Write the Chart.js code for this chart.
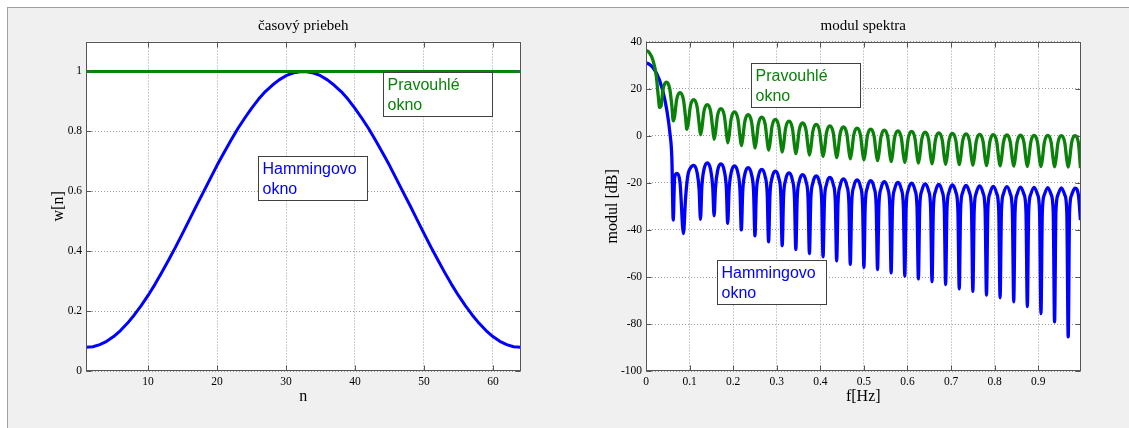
<!DOCTYPE html>
<html>
<head>
<meta charset="utf-8">
<script src="https://cdn.jsdelivr.net/npm/chart.js@4.4.1/dist/chart.umd.min.js"></script>
<style>
body{margin:0;background:#fff;width:1129px;height:428px;overflow:hidden;position:relative}
#fundo{position:absolute;left:7px;top:7px;right:0;bottom:0;background:#f0f0f0;border-top:1px solid #a0a0a0;border-left:1px solid #a0a0a0}
canvas{position:absolute;left:0;top:0}
</style>
</head>
<body>
<div id="fundo"></div>
<canvas id="tempo" width="1129" height="428"></canvas>
<canvas id="spektrum" width="1129" height="428"></canvas>
<script>
// casovy priebeh: vzorky n = 1..64
var nIdx = [1,2,3,4,5,6,7,8,9,10,11,12,13,14,15,16,17,18,19,20,21,22,23,24,25,26,27,28,29,30,31,32,
  33,34,35,36,37,38,39,40,41,42,43,44,45,46,47,48,49,50,51,52,53,54,55,56,57,58,59,60,61,62,63,64]
var rectW = [1,1,1,1,1,1,1,1,1,1,1,1,1,1,1,1,1,1,1,1,1,1,1,1,1,1,1,1,1,1,1,1,
  1,1,1,1,1,1,1,1,1,1,1,1,1,1,1,1,1,1,1,1,1,1,1,1,1,1,1,1,1,1,1,1]
var hammW = [0.080,0.082,0.089,0.100,0.116,0.136,0.160,0.188,0.219,0.253,0.290,0.330,0.372,0.415,0.460,0.506,
  0.552,0.597,0.642,0.687,0.729,0.770,0.809,0.844,0.877,0.907,0.933,0.954,0.972,0.986,0.995,0.999,
  0.999,0.995,0.986,0.972,0.954,0.933,0.907,0.877,0.844,0.809,0.770,0.729,0.687,0.642,0.597,0.552,
  0.506,0.460,0.415,0.372,0.330,0.290,0.253,0.219,0.188,0.160,0.136,0.116,0.100,0.089,0.082,0.080]

// modul spektra
var spectrumFreq = [
  0,0.0031,0.0078,0.0156,0.0234,0.0281,
  0.0313,0.0344,0.0391,0.0469,0.0547,0.0594,
  0.0625,0.0656,0.0703,0.0781,0.0859,0.0906,
  0.0938,0.0969,0.1016,0.1094,0.1172,0.1219,
  0.125,0.1281,0.1328,0.1406,0.1484,0.1531,
  0.1563,0.1594,0.1641,0.1719,0.1797,0.1844,
  0.1875,0.1906,0.1953,0.2031,0.2109,0.2156,
  0.2188,0.2219,0.2266,0.2344,0.2422,0.2469,
  0.25,0.2531,0.2578,0.2656,0.2734,0.2781,
  0.2813,0.2844,0.2891,0.2969,0.3047,0.3094,
  0.3125,0.3156,0.3203,0.3281,0.3359,0.3406,
  0.3438,0.3469,0.3516,0.3594,0.3672,0.3719,
  0.375,0.3781,0.3828,0.3906,0.3984,0.4031,
  0.4063,0.4094,0.4141,0.4219,0.4297,0.4344,
  0.4375,0.4406,0.4453,0.4531,0.4609,0.4656,
  0.4688,0.4719,0.4766,0.4844,0.4922,0.4969,
  0.5,0.5031,0.5078,0.5156,0.5234,0.5281,
  0.5313,0.5344,0.5391,0.5469,0.5547,0.5594,
  0.5625,0.5656,0.5703,0.5781,0.5859,0.5906,
  0.5938,0.5969,0.6016,0.6094,0.6172,0.6219,
  0.625,0.6281,0.6328,0.6406,0.6484,0.6531,
  0.6563,0.6594,0.6641,0.6719,0.6797,0.6844,
  0.6875,0.6906,0.6953,0.7031,0.7109,0.7156,
  0.7188,0.7219,0.7266,0.7344,0.7422,0.7469,
  0.75,0.7531,0.7578,0.7656,0.7734,0.7781,
  0.7813,0.7844,0.7891,0.7969,0.8047,0.8094,
  0.8125,0.8156,0.8203,0.8281,0.8359,0.8406,
  0.8438,0.8469,0.8516,0.8594,0.8672,0.8719,
  0.875,0.8781,0.8828,0.8906,0.8984,0.9031,
  0.9063,0.9094,0.9141,0.9219,0.9297,0.9344,
  0.9375,0.9406,0.9453,0.9531,0.9609,0.9656,
  0.9688,0.9719,0.9766,0.9844,0.9922,0.9969]
var rectDb = [
  36.1,36.0,35.2,32.2,25.7,16.9,
  12.0,12.5,19.7,22.7,19.7,12.5,
  6.3,8.1,15.3,18.3,15.3,8.1,
  2.7,5.1,12.3,15.3,12.3,5.1,
  0.4,3.0,10.2,13.2,10.2,3.0,
  -1.5,1.3,8.5,11.5,8.5,1.3,
  -3.0,-0.1,7.1,10.1,7.1,-0.1,
  -4.2,-1.3,5.9,8.9,5.9,-1.3,
  -5.2,-2.3,4.9,7.9,4.9,-2.3,
  -6.1,-3.3,3.9,6.9,3.9,-3.3,
  -6.9,-4.0,3.2,6.2,3.2,-4.0,
  -7.6,-4.8,2.4,5.4,2.4,-4.8,
  -8.2,-5.4,1.8,4.8,1.8,-5.4,
  -8.8,-6.0,1.2,4.2,1.2,-6.0,
  -9.3,-6.5,0.7,3.7,0.7,-6.5,
  -9.8,-7.0,0.2,3.2,0.2,-7.0,
  -10.2,-7.4,-0.2,2.8,-0.2,-7.4,
  -10.6,-7.8,-0.6,2.4,-0.6,-7.8,
  -11.0,-8.1,-0.9,2.1,-0.9,-8.1,
  -11.3,-8.4,-1.2,1.8,-1.2,-8.4,
  -11.6,-8.7,-1.5,1.5,-1.5,-8.7,
  -11.9,-9.0,-1.8,1.2,-1.8,-9.0,
  -12.1,-9.2,-2.0,1.0,-2.0,-9.2,
  -12.3,-9.4,-2.2,0.8,-2.2,-9.4,
  -12.5,-9.6,-2.4,0.6,-2.4,-9.6,
  -12.7,-9.7,-2.5,0.5,-2.5,-9.7,
  -12.8,-9.9,-2.7,0.3,-2.7,-9.9,
  -12.9,-10.0,-2.8,0.2,-2.8,-10.0,
  -13.0,-10.1,-2.9,0.1,-2.9,-10.1,
  -13.1,-10.1,-2.9,0.1,-2.9,-10.1,
  -13.2,-10.2,-3.0,0.0,-3.0,-10.2,
  -13.3,-10.2,-3.0,0.0,-3.0,-13.7]
var hammDb = [
  30.8,30.7,30.3,29.0,26.7,24.9,
  23.4,21.6,18.6,11.8,1.4,-9.9,
  -35.8,-18.0,-16.0,-20.0,-41.5,-27.0,
  -20.0,-16.0,-13.8,-12.6,-15.6,-22.8,
  -35.5,-21.7,-14.5,-11.5,-14.5,-21.7,
  -34.0,-22.2,-15.0,-12.0,-15.0,-22.2,
  -37.2,-23.0,-15.8,-12.8,-15.8,-23.0,
  -40.0,-23.7,-16.5,-13.5,-16.5,-23.7,
  -42.5,-24.5,-17.3,-14.3,-17.3,-24.5,
  -45.0,-25.2,-18.0,-15.0,-18.0,-25.2,
  -46.7,-26.0,-18.8,-15.8,-18.8,-26.0,
  -48.3,-26.7,-19.5,-16.5,-19.5,-26.7,
  -50.0,-27.3,-20.1,-17.1,-20.1,-27.3,
  -51.4,-27.9,-20.7,-17.7,-20.7,-27.9,
  -53.1,-28.5,-21.3,-18.3,-21.3,-28.5,
  -54.6,-28.9,-21.7,-18.7,-21.7,-28.9,
  -55.9,-29.3,-22.1,-19.1,-22.1,-29.3,
  -56.8,-29.7,-22.5,-19.5,-22.5,-29.7,
  -58.2,-30.0,-22.8,-19.8,-22.8,-30.0,
  -59.6,-30.3,-23.1,-20.1,-23.1,-30.3,
  -60.8,-30.6,-23.4,-20.4,-23.4,-30.6,
  -62.0,-30.9,-23.7,-20.7,-23.7,-30.9,
  -63.2,-31.1,-23.9,-20.9,-23.9,-31.1,
  -65.0,-31.3,-24.1,-21.1,-24.1,-31.3,
  -66.1,-31.5,-24.3,-21.3,-24.3,-31.5,
  -67.7,-31.7,-24.5,-21.5,-24.5,-31.7,
  -68.8,-31.8,-24.6,-21.6,-24.6,-31.8,
  -70.5,-32.0,-24.8,-21.8,-24.8,-32.0,
  -72.5,-32.1,-24.9,-21.9,-24.9,-32.1,
  -75.5,-32.2,-25.0,-22.0,-25.0,-32.2,
  -79.0,-32.3,-25.1,-22.1,-25.1,-32.3,
  -85.4,-32.4,-25.2,-22.2,-25.2,-35.8]

// popisky osi
var nTicks = [10,20,30,40,50,60]
var wTicks = [0,0.2,0.4,0.6,0.8,1]
var fTicks = [0,0.1,0.2,0.3,0.4,0.5,0.6,0.7,0.8,0.9]
var dbTicks = [-100,-80,-60,-40,-20,0,20,40]

var zelena = '#0a820a'
var modra = '#0000ff'

var poznamky = {
  tempo: [
    {lines: ['Pravouhlé', 'okno'], color: zelena, x: 44.1, y: 0.997},
    {lines: ['Hammingovo', 'okno'], color: modra, x: 25.9, y: 0.718}
  ],
  spektrum: [
    {lines: ['Pravouhlé', 'okno'], color: zelena, x: 0.2412, y: 31.0},
    {lines: ['Hammingovo', 'okno'], color: modra, x: 0.163, y: -52.75}
  ]
}

Chart.defaults.font.family = '"Liberation Serif", "Times New Roman", serif'
Chart.defaults.color = '#000'

var ramik = {
  id: 'ramik',
  beforeDraw: function(chart) {
    var a = chart.chartArea, c = chart.ctx
    c.save()
    c.fillStyle = '#fff'
    c.fillRect(a.left, a.top, a.right - a.left, a.bottom - a.top)
    c.restore()
  },
  afterDatasetsDraw: function(chart) {
    var a = chart.chartArea, c = chart.ctx
    var sx = chart.scales.x, sy = chart.scales.y
    var l = Math.round(a.left) + 0.5, r = Math.round(a.right) - 0.5
    var t = Math.round(a.top) + 0.5, b = Math.round(a.bottom) - 0.5
    c.save()
    c.strokeStyle = '#555'
    c.lineWidth = 1
    c.beginPath()
    sx.ticks.forEach(function(tk) {
      var px = Math.round(sx.getPixelForValue(tk.value)) + 0.5
      c.moveTo(px, b); c.lineTo(px, b - 5)
      c.moveTo(px, t); c.lineTo(px, t + 5)
    })
    sy.ticks.forEach(function(tk) {
      var py = Math.round(sy.getPixelForValue(tk.value)) + 0.5
      c.moveTo(l, py); c.lineTo(l + 5, py)
      c.moveTo(r, py); c.lineTo(r - 5, py)
    })
    c.stroke()
    c.strokeRect(l, t, r - l, b - t)

    var notes = poznamky[chart.canvas.id] || []
    notes.forEach(function(n) {
      var x = Math.round(sx.getPixelForValue(n.x)) + 0.5
      var y = Math.round(sy.getPixelForValue(n.y)) + 0.5
      c.fillStyle = '#fff'
      c.fillRect(x, y, 109, 44)
      c.strokeStyle = '#404040'
      c.strokeRect(x, y, 109, 44)
      c.fillStyle = n.color
      c.font = '16px "Liberation Sans", Arial, sans-serif'
      c.textBaseline = 'middle'
      c.textAlign = 'left'
      n.lines.forEach(function(txt, i) {
        c.fillText(txt, x + 4, y + 13.5 + i * 19.4)
      })
    })
    c.restore()
  }
}

function os(min, max, tickVals, titulok, fit) {
  return {
    type: 'linear',
    min: min,
    max: max,
    afterBuildTicks: function(s) { s.ticks = tickVals.map(function(v) { return {value: v} }) },
    afterFit: fit,
    grid: {color: '#9a9a9a', lineWidth: 1, drawTicks: false},
    border: {display: false, dash: [1, 2]},
    ticks: {color: '#000', font: {size: 11.5}, padding: 4, maxRotation: 0, autoSkip: false,
      callback: function(v) { return String(v) }},
    title: titulok
  }
}

function gerargrafico(id, nadpis, datasets, sx, sy, padL, padR) {
  var ctx = document.getElementById(id).getContext('2d')
  return new Chart(ctx, {
    type: 'line',
    data: {datasets: datasets},
    options: {
      responsive: false,
      animation: false,
      layout: {padding: {left: padL, right: padR, top: 8, bottom: 0}},
      plugins: {
        legend: {display: false},
        tooltip: {enabled: false},
        title: {display: true, text: nadpis, fullSize: false, color: '#000',
          font: {size: 15, weight: 'normal'}, padding: {top: 9, bottom: 6.5}}
      },
      scales: {x: sx, y: sy}
    },
    plugins: [ramik]
  })
}

function serie(xs, ys, farba, sirka) {
  return {
    data: xs.map(function(v, i) { return {x: v, y: ys[i]} }),
    borderColor: farba,
    borderWidth: sirka,
    pointRadius: 0,
    borderJoinStyle: 'round',
    fill: false
  }
}

var titX = function(t) { return {display: true, text: t, color: '#000', font: {size: 16}, padding: {top: 0, bottom: 21.5}} }
var titY = function(t) { return {display: true, text: t, color: '#000', font: {size: 16}, padding: {top: 4, bottom: 0}} }

var s1 = serie(nIdx, rectW, zelena, 3)
var s2 = serie(nIdx, hammW, modra, 3)
gerargrafico('tempo', 'časový priebeh', [s1, s2],
  os(1, 64, nTicks, titX('n'), function(s) { s.height = 56.7 }),
  os(0, 1.1, wTicks, titY('w[n]'), function(s) { s.width = 41 }),
  45, 608.5)

var s3 = serie(spectrumFreq, rectDb, zelena, 3.3)
var s4 = serie(spectrumFreq, hammDb, modra, 3.3)
s3.cubicInterpolationMode = 'monotone'
s4.cubicInterpolationMode = 'monotone'
gerargrafico('spektrum', 'modul spektra', [s3, s4],
  os(0, 0.997, fTicks, titX('f[Hz]'), function(s) { s.height = 56.7 }),
  os(-100, 40, dbTicks, titY('modul [dB]'), function(s) { s.width = 47 }),
  599, 48.5)
</script>
</body>
</html>
